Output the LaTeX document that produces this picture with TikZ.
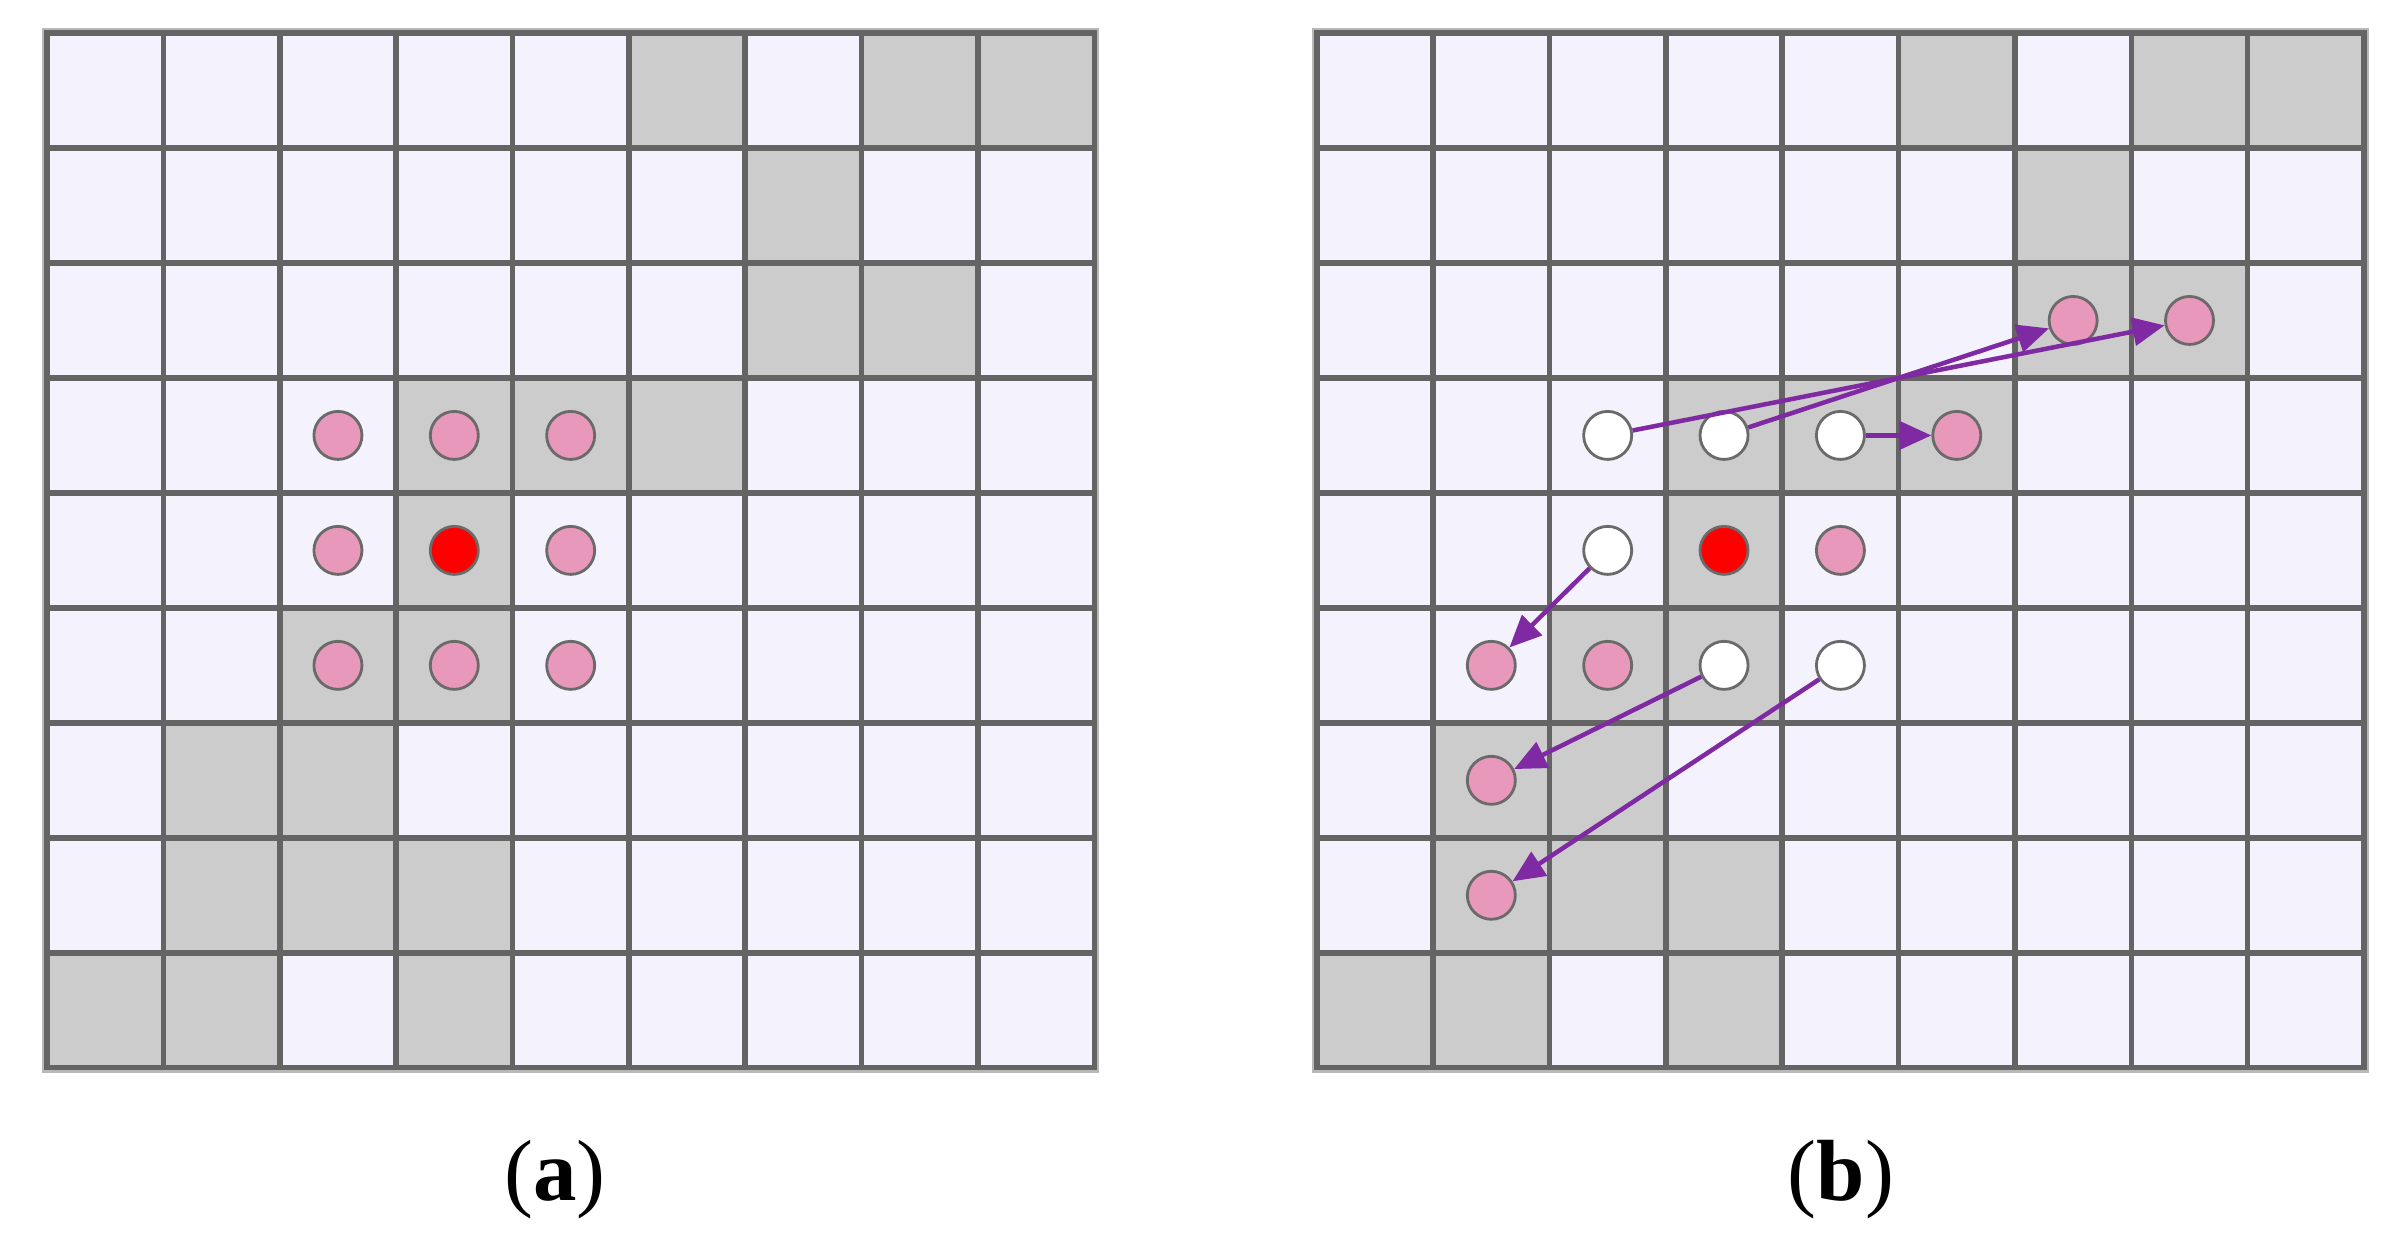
\documentclass[tikz,border=0pt]{standalone}
\usepackage{fontspec}
\setmainfont{Liberation Serif}
\usetikzlibrary{arrows.meta}
\definecolor{cellbg}{HTML}{F4F2FC}
\definecolor{cellgray}{HTML}{CCCCCC}
\definecolor{gridcol}{HTML}{646464}
\definecolor{halocol}{HTML}{B8B8B8}
\definecolor{pinkfill}{HTML}{E898BA}
\definecolor{ringgray}{HTML}{6A6A6A}
\definecolor{arrowpurple}{HTML}{7F2AA2}
\tikzset{
  gl/.style={draw=gridcol, line width=0.055cm},
  halo/.style={draw=halocol, line width=0.1cm},
  dot/.style={circle, draw=ringgray, line width=0.028cm, minimum size=0.48cm, inner sep=0pt},
  pinkdot/.style={dot, fill=pinkfill},
  reddot/.style={dot, fill=red},
  whitedot/.style={dot, fill=white},
  movearrow/.style={draw=arrowpurple, line width=0.045cm, -{Triangle[length=0.32cm,width=0.28cm]}},
  caption/.style={font=\fontsize{24.7}{30}\selectfont, anchor=base, inner sep=0pt},
}
\newcommand\cellgrid{%
  \draw[halo] (0,0) rectangle (9,9);
  \fill[cellbg] (0,0) rectangle (9,9);
  \foreach \c/\r in {5/0,7/0,8/0,6/1,6/2,7/2,3/3,4/3,5/3,3/4,2/5,3/5,1/6,2/6,1/7,2/7,3/7,0/8,1/8,3/8}
    {\fill[cellgray] (\c,\r) rectangle ++(1,1);}
  \foreach \i in {1,...,8} {\draw[gl] (\i,0) -- (\i,9); \draw[gl] (0,\i) -- (9,\i);}
  \draw[gl] (0,0) rectangle (9,9);
}
\begin{document}
\begin{tikzpicture}[x=0.01cm, y=-0.01cm]
\useasboundingbox (0,0) rectangle (2402,1235);
% (a)
\begin{scope}[xshift=0.47cm, yshift=-0.33cm, x=1.163cm, y=-1.149cm]
  \cellgrid
  \node[pinkdot] (a-2-3) at (2.5,3.5) {};
  \node[pinkdot] (a-3-3) at (3.5,3.5) {};
  \node[pinkdot] (a-4-3) at (4.5,3.5) {};
  \node[pinkdot] (a-2-4) at (2.5,4.5) {};
  \node[reddot]  (a-3-4) at (3.5,4.5) {};
  \node[pinkdot] (a-4-4) at (4.5,4.5) {};
  \node[pinkdot] (a-2-5) at (2.5,5.5) {};
  \node[pinkdot] (a-3-5) at (3.5,5.5) {};
  \node[pinkdot] (a-4-5) at (4.5,5.5) {};
\end{scope}
% (b)
\begin{scope}[xshift=13.16cm, yshift=-0.33cm, x=1.163cm, y=-1.149cm]
  \cellgrid
  \node[pinkdot]  (b-6-2) at (6.5,2.5) {};
  \node[pinkdot]  (b-7-2) at (7.5,2.5) {};
  \node[whitedot] (b-2-3) at (2.5,3.5) {};
  \node[whitedot] (b-3-3) at (3.5,3.5) {};
  \node[whitedot] (b-4-3) at (4.5,3.5) {};
  \node[pinkdot]  (b-5-3) at (5.5,3.5) {};
  \node[whitedot] (b-2-4) at (2.5,4.5) {};
  \node[reddot]   (b-3-4) at (3.5,4.5) {};
  \node[pinkdot]  (b-4-4) at (4.5,4.5) {};
  \node[pinkdot]  (b-1-5) at (1.5,5.5) {};
  \node[pinkdot]  (b-2-5) at (2.5,5.5) {};
  \node[whitedot] (b-3-5) at (3.5,5.5) {};
  \node[whitedot] (b-4-5) at (4.5,5.5) {};
  \node[pinkdot]  (b-1-6) at (1.5,6.5) {};
  \node[pinkdot]  (b-1-7) at (1.5,7.5) {};
  \draw[movearrow] (b-2-3) -- (b-7-2);
  \draw[movearrow] (b-3-3) -- (b-6-2);
  \draw[movearrow] (b-4-3) -- (b-5-3);
  \draw[movearrow] (b-2-4) -- (b-1-5);
  \draw[movearrow] (b-3-5) -- (b-1-6);
  \draw[movearrow] (b-4-5) -- (b-1-7);
\end{scope}
\node[caption] (capA) at (555,1200) {(\textbf{a})};
\node[caption] (capB) at (1841,1200) {(\textbf{b})};
\end{tikzpicture}
\end{document}
